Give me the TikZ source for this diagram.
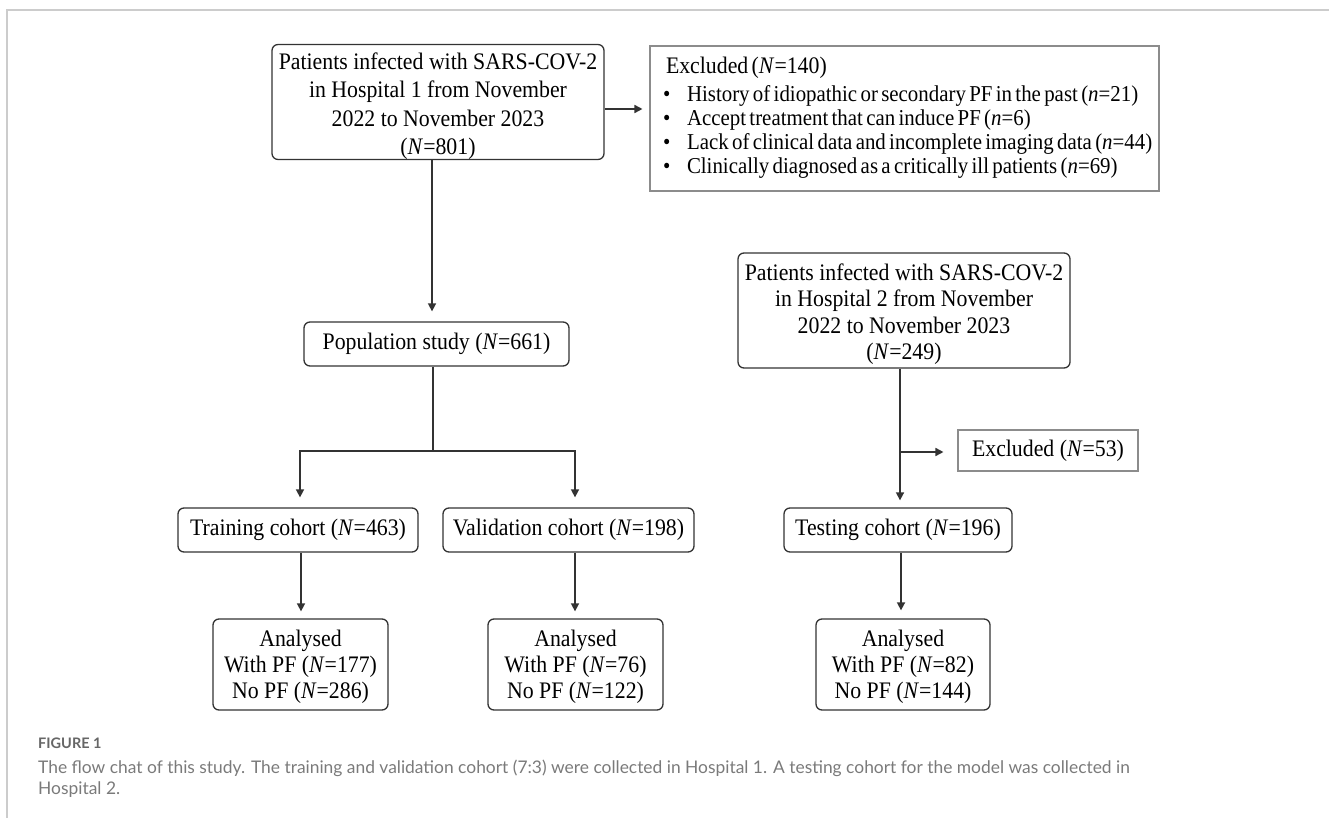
\documentclass[tikz,border=0pt]{standalone}
\usepackage{fontspec}
\setmainfont{Liberation Serif}[FakeStretch=0.92]
\setsansfont{Lato}
\usetikzlibrary{arrows.meta}
\definecolor{linec}{HTML}{333333}
\definecolor{excc}{HTML}{8C8C8C}
\definecolor{capc}{HTML}{7A7A7A}
\definecolor{figc}{HTML}{666666}
\definecolor{framec}{HTML}{CCCCCC}
\newcommand{\mfont}{\fontsize{23.7}{28.3}\selectfont}
\newcommand{\afont}{\fontsize{23.7}{26.2}\selectfont}
\newcommand{\bfontx}{\fontsize{22.7}{24}\selectfont}
\newcommand{\topstrut}[1]{\rule{0pt}{#1}}
\tikzset{
  rbox/.style={draw=linec, line width=1.3pt, rounded corners=6pt, fill=white,
    align=center, inner sep=0pt, font=\mfont},
  abox/.style={rbox, font=\afont, minimum width=175pt, minimum height=91pt},
  cbox/.style={rbox, minimum height=44pt},
  exbox/.style={draw=excc, line width=1.1pt, fill=white, inner sep=0pt},
  conn/.style={draw=linec, line width=1.6pt},
  arr/.style={conn, -{Triangle[length=8pt,width=8pt]}},
  capt/.style={anchor=base west, inner sep=0pt, text=capc,
    font=\sffamily\fontsize{17.4}{21}\selectfont}
}
\begin{document}
\begin{tikzpicture}[x=1pt,y=-1pt]
\useasboundingbox (0,0) rectangle (1329,818);
\draw[framec, line width=1.3pt] (7,818) -- (7,10) -- (1329,10);

% Hospital 1 branch
\node[rbox, minimum width=332pt, minimum height=112pt] (A) at (438,102)
  {\topstrut{25pt}Patients infected with SARS-COV-2\\in Hospital 1 from November\\2022 to November 2023\\(\textit{N}=801)};
\node[exbox, minimum width=509pt, minimum height=145pt, text width=483pt,
  inner xsep=13pt] (ExclA) at (904.5,118.5)
  {\bfontx\begin{tabular}{@{}l@{}}
   \hspace{3pt}{\fontsize{23.7}{28}\selectfont Excluded (\textit{N}=140)}\\[4pt]
   \makebox[24pt][l]{\textbullet}History of idiopathic or secondary PF in the past (\textit{n}=21)\\
   \makebox[24pt][l]{\textbullet}Accept treatment that can induce PF (\textit{n}=6)\\
   \makebox[24pt][l]{\textbullet}Lack of clinical data and incomplete imaging data (\textit{n}=44)\\
   \makebox[24pt][l]{\textbullet}Clinically diagnosed as a critically ill patients (\textit{n}=69)
  \end{tabular}};
\node[cbox, minimum width=265pt] (Pop) at (436.5,344) {Population study (\textit{N}=661)};
\node[cbox, minimum width=240pt] (Train) at (298,530) {Training cohort (\textit{N}=463)};
\node[cbox, minimum width=251pt] (Val) at (568.5,530) {Validation cohort (\textit{N}=198)};
\node[abox] (TrainA) at (300.5,664.5) {\topstrut{21pt}Analysed\\With PF (\textit{N}=177)\\No PF (\textit{N}=286)};
\node[abox] (ValA) at (575.5,664.5) {\topstrut{21pt}Analysed\\With PF (\textit{N}=76)\\No PF (\textit{N}=122)};

% Hospital 2 branch
\node[rbox, font=\fontsize{23.7}{26.5}\selectfont, minimum width=332pt, minimum height=115pt] (B) at (904,310.5)
  {\topstrut{24pt}Patients infected with SARS-COV-2\\in Hospital 2 from November\\2022 to November 2023\\(\textit{N}=249)};
\node[exbox, font=\mfont, minimum width=180pt, minimum height=41pt] (Excl53) at (1048,450.5)
  {Excluded (\textit{N}=53)};
\node[cbox, minimum width=228pt] (Test) at (898,530) {Testing cohort (\textit{N}=196)};
\node[abox, minimum width=174pt] (TestA) at (903,664.5) {\topstrut{21pt}Analysed\\With PF (\textit{N}=82)\\No PF (\textit{N}=144)};

% connectors
\coordinate (ya) at (0,109);
\coordinate (xa) at (432,0);
\coordinate (br) at (433,451);
\coordinate (bl) at (300,451);
\coordinate (bv) at (575,451);
\coordinate (xt) at (301,0);
\coordinate (xb) at (900,0);
\coordinate (bx) at (900,452);
\coordinate (xs) at (901,0);

\draw[arr, shorten >=7pt] (A.east |- ya) -- (ExclA.west |- ya);
\draw[arr, shorten >=10pt] (A.south -| xa) -- (Pop.north -| xa);
\draw[conn] (Pop.south -| br) -- (br);
\draw[arr, shorten >=10pt] (br) -| (Train.north -| bl);
\draw[arr, shorten >=10pt] (br) -| (Val.north -| bv);
\draw[arr, shorten >=7pt] (Train.south -| xt) -- (TrainA.north -| xt);
\draw[arr, shorten >=7pt] (Val.south -| bv) -- (ValA.north -| bv);
\draw[arr, shorten >=7pt] (B.south -| xb) -- (Test.north -| xb);
\draw[arr, shorten >=14pt] (bx) -- (Excl53.west |- bx);
\draw[arr, shorten >=8pt] (Test.south -| xs) -- (TestA.north -| xs);

% caption
\node[anchor=base west, inner sep=0pt, text=figc,
  font=\sffamily\bfseries\fontsize{14.5}{16}\selectfont] (fig) at (38,748) {FIGURE 1};
\node[capt] (cap1) at (38,773) {The flow chat of this study. The training and validation cohort (7:3) were collected in Hospital 1. A testing cohort for the model was collected in};
\node[capt] (cap2) at (38,794) {Hospital 2.};
\end{tikzpicture}
\end{document}
